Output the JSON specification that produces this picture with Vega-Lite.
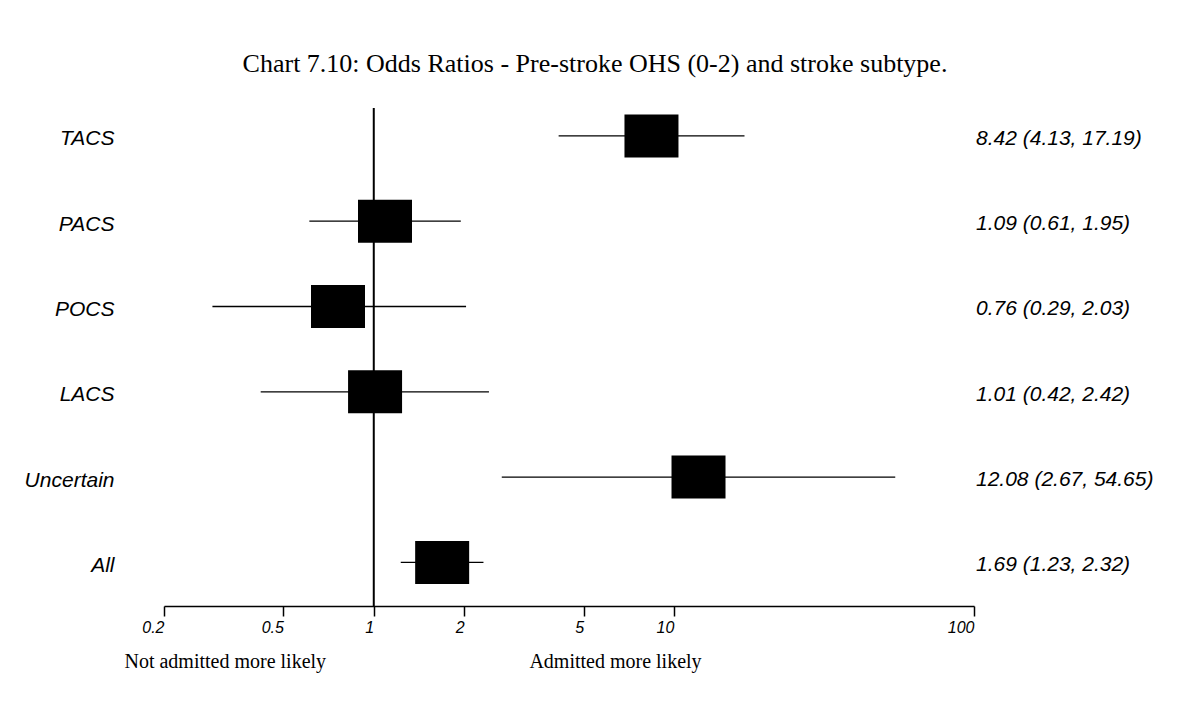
{
  "$schema": "https://vega.github.io/schema/vega-lite/v6.json",
  "width": 810,
  "height": 498,
  "autosize": {"type": "none"},
  "padding": {"left": 164, "top": 108, "right": 216, "bottom": 96},
  "background": "white",
  "config": {"view": {"stroke": null}},
  "title": {
    "text": "Chart 7.10: Odds Ratios - Pre-stroke OHS (0-2) and stroke subtype.",
    "font": "Liberation Serif",
    "fontSize": 26,
    "fontWeight": "normal",
    "color": "black",
    "anchor": "middle",
    "frame": "group",
    "dx": 26,
    "offset": 9,
    "baseline": "alphabetic"
  },
  "datasets": {
    "rows": [
      {"group": "TACS", "or": 8.42, "lo": 4.13, "hi": 17.19, "label": "8.42 (4.13, 17.19)"},
      {"group": "PACS", "or": 1.09, "lo": 0.61, "hi": 1.95, "label": "1.09 (0.61, 1.95)"},
      {"group": "POCS", "or": 0.76, "lo": 0.29, "hi": 2.03, "label": "0.76 (0.29, 2.03)"},
      {"group": "LACS", "or": 1.01, "lo": 0.42, "hi": 2.42, "label": "1.01 (0.42, 2.42)"},
      {"group": "Uncertain", "or": 12.08, "lo": 2.67, "hi": 54.65, "label": "12.08 (2.67, 54.65)"},
      {"group": "All", "or": 1.69, "lo": 1.23, "hi": 2.32, "label": "1.69 (1.23, 2.32)"}
    ],
    "notes": [
      {"note": "Not admitted more likely", "x": 0.32},
      {"note": "Admitted more likely", "x": 6.39}
    ],
    "ref": [
      {"x": 1}
    ]
  },
  "layer": [
    {
      "data": {"name": "rows"},
      "mark": {"type": "rule", "color": "black", "strokeWidth": 1.3},
      "encoding": {
        "x": {
          "field": "lo", "type": "quantitative",
          "scale": {"type": "log", "domain": [0.2, 100], "nice": false, "zero": false},
          "axis": {
            "title": null, "values": [0.2, 0.5, 1, 2, 5, 10, 100], "format": "~g",
            "grid": false, "domainColor": "black", "domainWidth": 1.5,
            "tickColor": "black", "tickSize": 10, "tickWidth": 1.5,
            "labelFont": "Liberation Sans", "labelFontStyle": "italic", "labelFontSize": 16,
            "labelColor": "black", "labelAlign": "right", "labelPadding": 3,
            "labelFlush": false, "labelOverlap": false
          }
        },
        "x2": {"field": "hi"},
        "y": {
          "field": "group", "type": "nominal",
          "scale": {"type": "point", "domain": ["TACS", "PACS", "POCS", "LACS", "Uncertain", "All"], "padding": 0.419, "align": 0.39},
          "axis": {
            "title": null, "domain": false, "ticks": false, "tickSize": 0, "grid": false,
            "labelPadding": 50, "labelFont": "Liberation Sans", "labelFontStyle": "italic",
            "labelFontSize": 21, "labelColor": "black", "labelAlign": "right", "labelOffset": 3
          }
        }
      }
    },
    {
      "data": {"name": "ref"},
      "mark": {"type": "rule", "color": "black", "strokeWidth": 2},
      "encoding": {
        "x": {"field": "x", "type": "quantitative"}
      }
    },
    {
      "data": {"name": "rows"},
      "mark": {"type": "tick", "color": "black", "opacity": 1, "thickness": 54, "size": 43},
      "encoding": {
        "x": {"field": "or", "type": "quantitative"},
        "y": {"field": "group", "type": "nominal"}
      }
    },
    {
      "data": {"name": "rows"},
      "mark": {"type": "text", "align": "left", "baseline": "middle", "dx": 2, "dy": 3, "font": "Liberation Sans", "fontStyle": "italic", "fontSize": 21, "color": "black"},
      "encoding": {
        "x": {"datum": 100, "type": "quantitative"},
        "y": {"field": "group", "type": "nominal"},
        "text": {"field": "label"}
      }
    },
    {
      "data": {"name": "notes"},
      "mark": {"type": "text", "align": "center", "baseline": "middle", "dy": 100, "font": "Liberation Serif", "fontSize": 20, "color": "black"},
      "encoding": {
        "x": {"field": "x", "type": "quantitative"},
        "y": {"datum": "All", "type": "nominal"},
        "text": {"field": "note"}
      }
    }
  ]
}
